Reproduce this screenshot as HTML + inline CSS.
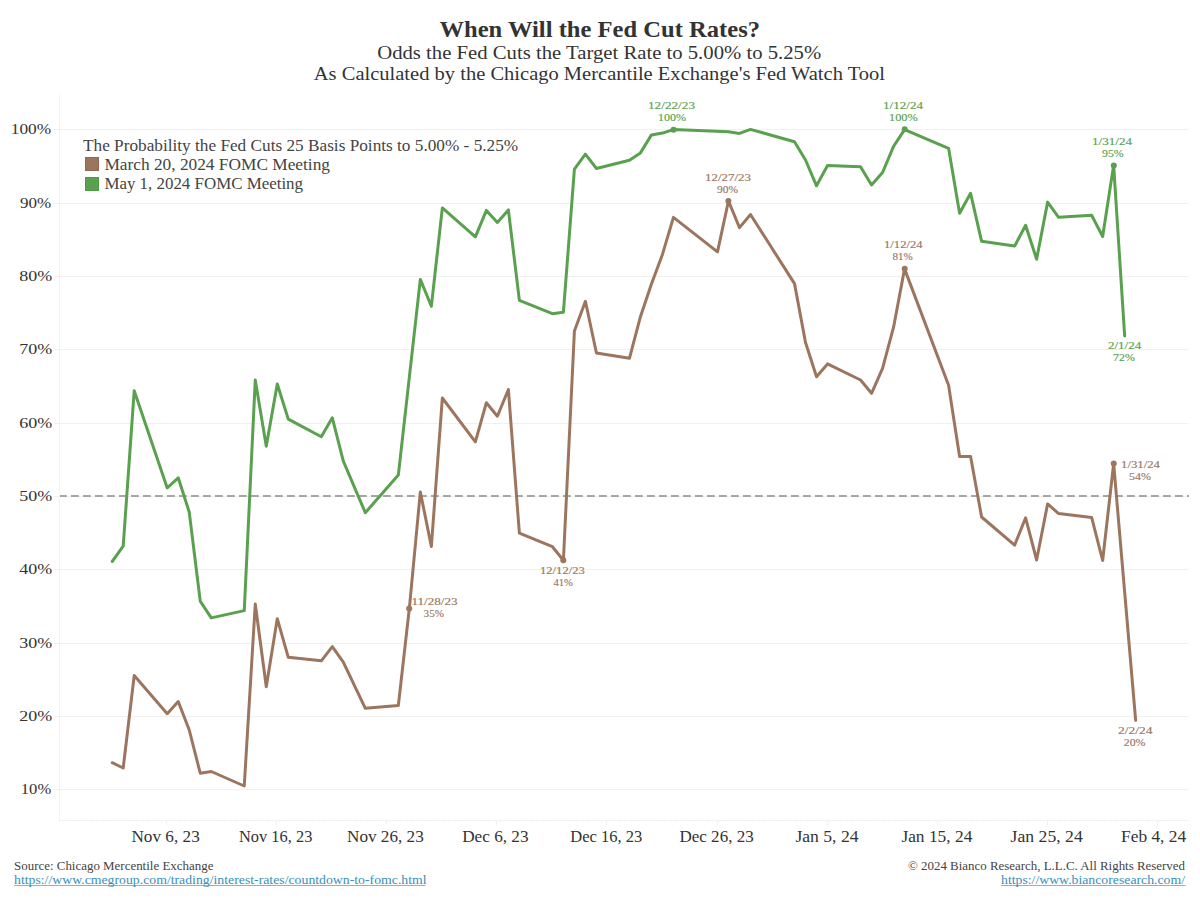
<!DOCTYPE html>
<html><head><meta charset="utf-8"><title>When Will the Fed Cut Rates?</title>
<style>
html,body{margin:0;padding:0;background:#fff;}
body{width:1200px;height:900px;overflow:hidden;}
svg{display:block;font-family:"Liberation Serif", serif;}
</style></head><body>
<svg width="1200" height="900" viewBox="0 0 1200 900">
<rect width="1200" height="900" fill="#fff"/>
<line x1="54" y1="129.5" x2="1188" y2="129.5" stroke="#f0f0f0" stroke-width="1"/>
<line x1="54" y1="203.5" x2="1188" y2="203.5" stroke="#f0f0f0" stroke-width="1"/>
<line x1="54" y1="276.5" x2="1188" y2="276.5" stroke="#f0f0f0" stroke-width="1"/>
<line x1="54" y1="349.5" x2="1188" y2="349.5" stroke="#f0f0f0" stroke-width="1"/>
<line x1="54" y1="423.5" x2="1188" y2="423.5" stroke="#f0f0f0" stroke-width="1"/>
<line x1="54" y1="496.5" x2="1188" y2="496.5" stroke="#f0f0f0" stroke-width="1"/>
<line x1="54" y1="569.5" x2="1188" y2="569.5" stroke="#f0f0f0" stroke-width="1"/>
<line x1="54" y1="643.5" x2="1188" y2="643.5" stroke="#f0f0f0" stroke-width="1"/>
<line x1="54" y1="716.5" x2="1188" y2="716.5" stroke="#f0f0f0" stroke-width="1"/>
<line x1="54" y1="789.5" x2="1188" y2="789.5" stroke="#f0f0f0" stroke-width="1"/>
<line x1="166.5" y1="821" x2="166.5" y2="825" stroke="#f0f0f0" stroke-width="1"/>
<line x1="276.5" y1="821" x2="276.5" y2="825" stroke="#f0f0f0" stroke-width="1"/>
<line x1="386.5" y1="821" x2="386.5" y2="825" stroke="#f0f0f0" stroke-width="1"/>
<line x1="496.5" y1="821" x2="496.5" y2="825" stroke="#f0f0f0" stroke-width="1"/>
<line x1="606.5" y1="821" x2="606.5" y2="825" stroke="#f0f0f0" stroke-width="1"/>
<line x1="717.5" y1="821" x2="717.5" y2="825" stroke="#f0f0f0" stroke-width="1"/>
<line x1="827.5" y1="821" x2="827.5" y2="825" stroke="#f0f0f0" stroke-width="1"/>
<line x1="937.5" y1="821" x2="937.5" y2="825" stroke="#f0f0f0" stroke-width="1"/>
<line x1="1047.5" y1="821" x2="1047.5" y2="825" stroke="#f0f0f0" stroke-width="1"/>
<line x1="1157.5" y1="821" x2="1157.5" y2="825" stroke="#f0f0f0" stroke-width="1"/>
<line x1="59.5" y1="821" x2="59.5" y2="822" stroke="#f2f2f2" stroke-width="1"/>
<line x1="70.5" y1="821" x2="70.5" y2="822" stroke="#f2f2f2" stroke-width="1"/>
<line x1="81.5" y1="821" x2="81.5" y2="822" stroke="#f2f2f2" stroke-width="1"/>
<line x1="92.5" y1="821" x2="92.5" y2="822" stroke="#f2f2f2" stroke-width="1"/>
<line x1="103.5" y1="821" x2="103.5" y2="822" stroke="#f2f2f2" stroke-width="1"/>
<line x1="114.5" y1="821" x2="114.5" y2="822" stroke="#f2f2f2" stroke-width="1"/>
<line x1="125.5" y1="821" x2="125.5" y2="822" stroke="#f2f2f2" stroke-width="1"/>
<line x1="136.5" y1="821" x2="136.5" y2="822" stroke="#f2f2f2" stroke-width="1"/>
<line x1="147.5" y1="821" x2="147.5" y2="822" stroke="#f2f2f2" stroke-width="1"/>
<line x1="158.5" y1="821" x2="158.5" y2="822" stroke="#f2f2f2" stroke-width="1"/>
<line x1="169.5" y1="821" x2="169.5" y2="822" stroke="#f2f2f2" stroke-width="1"/>
<line x1="180.5" y1="821" x2="180.5" y2="822" stroke="#f2f2f2" stroke-width="1"/>
<line x1="191.5" y1="821" x2="191.5" y2="822" stroke="#f2f2f2" stroke-width="1"/>
<line x1="202.5" y1="821" x2="202.5" y2="822" stroke="#f2f2f2" stroke-width="1"/>
<line x1="213.5" y1="821" x2="213.5" y2="822" stroke="#f2f2f2" stroke-width="1"/>
<line x1="224.5" y1="821" x2="224.5" y2="822" stroke="#f2f2f2" stroke-width="1"/>
<line x1="235.5" y1="821" x2="235.5" y2="822" stroke="#f2f2f2" stroke-width="1"/>
<line x1="246.5" y1="821" x2="246.5" y2="822" stroke="#f2f2f2" stroke-width="1"/>
<line x1="257.5" y1="821" x2="257.5" y2="822" stroke="#f2f2f2" stroke-width="1"/>
<line x1="268.5" y1="821" x2="268.5" y2="822" stroke="#f2f2f2" stroke-width="1"/>
<line x1="279.5" y1="821" x2="279.5" y2="822" stroke="#f2f2f2" stroke-width="1"/>
<line x1="290.5" y1="821" x2="290.5" y2="822" stroke="#f2f2f2" stroke-width="1"/>
<line x1="301.5" y1="821" x2="301.5" y2="822" stroke="#f2f2f2" stroke-width="1"/>
<line x1="312.5" y1="821" x2="312.5" y2="822" stroke="#f2f2f2" stroke-width="1"/>
<line x1="323.5" y1="821" x2="323.5" y2="822" stroke="#f2f2f2" stroke-width="1"/>
<line x1="334.5" y1="821" x2="334.5" y2="822" stroke="#f2f2f2" stroke-width="1"/>
<line x1="345.5" y1="821" x2="345.5" y2="822" stroke="#f2f2f2" stroke-width="1"/>
<line x1="356.5" y1="821" x2="356.5" y2="822" stroke="#f2f2f2" stroke-width="1"/>
<line x1="367.5" y1="821" x2="367.5" y2="822" stroke="#f2f2f2" stroke-width="1"/>
<line x1="378.5" y1="821" x2="378.5" y2="822" stroke="#f2f2f2" stroke-width="1"/>
<line x1="389.5" y1="821" x2="389.5" y2="822" stroke="#f2f2f2" stroke-width="1"/>
<line x1="400.5" y1="821" x2="400.5" y2="822" stroke="#f2f2f2" stroke-width="1"/>
<line x1="411.5" y1="821" x2="411.5" y2="822" stroke="#f2f2f2" stroke-width="1"/>
<line x1="422.5" y1="821" x2="422.5" y2="822" stroke="#f2f2f2" stroke-width="1"/>
<line x1="433.5" y1="821" x2="433.5" y2="822" stroke="#f2f2f2" stroke-width="1"/>
<line x1="444.5" y1="821" x2="444.5" y2="822" stroke="#f2f2f2" stroke-width="1"/>
<line x1="455.5" y1="821" x2="455.5" y2="822" stroke="#f2f2f2" stroke-width="1"/>
<line x1="466.5" y1="821" x2="466.5" y2="822" stroke="#f2f2f2" stroke-width="1"/>
<line x1="477.5" y1="821" x2="477.5" y2="822" stroke="#f2f2f2" stroke-width="1"/>
<line x1="488.5" y1="821" x2="488.5" y2="822" stroke="#f2f2f2" stroke-width="1"/>
<line x1="499.5" y1="821" x2="499.5" y2="822" stroke="#f2f2f2" stroke-width="1"/>
<line x1="510.5" y1="821" x2="510.5" y2="822" stroke="#f2f2f2" stroke-width="1"/>
<line x1="521.5" y1="821" x2="521.5" y2="822" stroke="#f2f2f2" stroke-width="1"/>
<line x1="532.5" y1="821" x2="532.5" y2="822" stroke="#f2f2f2" stroke-width="1"/>
<line x1="543.5" y1="821" x2="543.5" y2="822" stroke="#f2f2f2" stroke-width="1"/>
<line x1="554.5" y1="821" x2="554.5" y2="822" stroke="#f2f2f2" stroke-width="1"/>
<line x1="565.5" y1="821" x2="565.5" y2="822" stroke="#f2f2f2" stroke-width="1"/>
<line x1="576.5" y1="821" x2="576.5" y2="822" stroke="#f2f2f2" stroke-width="1"/>
<line x1="587.5" y1="821" x2="587.5" y2="822" stroke="#f2f2f2" stroke-width="1"/>
<line x1="598.5" y1="821" x2="598.5" y2="822" stroke="#f2f2f2" stroke-width="1"/>
<line x1="609.5" y1="821" x2="609.5" y2="822" stroke="#f2f2f2" stroke-width="1"/>
<line x1="620.5" y1="821" x2="620.5" y2="822" stroke="#f2f2f2" stroke-width="1"/>
<line x1="631.5" y1="821" x2="631.5" y2="822" stroke="#f2f2f2" stroke-width="1"/>
<line x1="642.5" y1="821" x2="642.5" y2="822" stroke="#f2f2f2" stroke-width="1"/>
<line x1="653.5" y1="821" x2="653.5" y2="822" stroke="#f2f2f2" stroke-width="1"/>
<line x1="664.5" y1="821" x2="664.5" y2="822" stroke="#f2f2f2" stroke-width="1"/>
<line x1="675.5" y1="821" x2="675.5" y2="822" stroke="#f2f2f2" stroke-width="1"/>
<line x1="686.5" y1="821" x2="686.5" y2="822" stroke="#f2f2f2" stroke-width="1"/>
<line x1="697.5" y1="821" x2="697.5" y2="822" stroke="#f2f2f2" stroke-width="1"/>
<line x1="708.5" y1="821" x2="708.5" y2="822" stroke="#f2f2f2" stroke-width="1"/>
<line x1="719.5" y1="821" x2="719.5" y2="822" stroke="#f2f2f2" stroke-width="1"/>
<line x1="730.5" y1="821" x2="730.5" y2="822" stroke="#f2f2f2" stroke-width="1"/>
<line x1="741.5" y1="821" x2="741.5" y2="822" stroke="#f2f2f2" stroke-width="1"/>
<line x1="752.5" y1="821" x2="752.5" y2="822" stroke="#f2f2f2" stroke-width="1"/>
<line x1="763.5" y1="821" x2="763.5" y2="822" stroke="#f2f2f2" stroke-width="1"/>
<line x1="774.5" y1="821" x2="774.5" y2="822" stroke="#f2f2f2" stroke-width="1"/>
<line x1="785.5" y1="821" x2="785.5" y2="822" stroke="#f2f2f2" stroke-width="1"/>
<line x1="796.5" y1="821" x2="796.5" y2="822" stroke="#f2f2f2" stroke-width="1"/>
<line x1="807.5" y1="821" x2="807.5" y2="822" stroke="#f2f2f2" stroke-width="1"/>
<line x1="818.5" y1="821" x2="818.5" y2="822" stroke="#f2f2f2" stroke-width="1"/>
<line x1="829.5" y1="821" x2="829.5" y2="822" stroke="#f2f2f2" stroke-width="1"/>
<line x1="840.5" y1="821" x2="840.5" y2="822" stroke="#f2f2f2" stroke-width="1"/>
<line x1="851.5" y1="821" x2="851.5" y2="822" stroke="#f2f2f2" stroke-width="1"/>
<line x1="862.5" y1="821" x2="862.5" y2="822" stroke="#f2f2f2" stroke-width="1"/>
<line x1="873.5" y1="821" x2="873.5" y2="822" stroke="#f2f2f2" stroke-width="1"/>
<line x1="884.5" y1="821" x2="884.5" y2="822" stroke="#f2f2f2" stroke-width="1"/>
<line x1="895.5" y1="821" x2="895.5" y2="822" stroke="#f2f2f2" stroke-width="1"/>
<line x1="906.5" y1="821" x2="906.5" y2="822" stroke="#f2f2f2" stroke-width="1"/>
<line x1="917.5" y1="821" x2="917.5" y2="822" stroke="#f2f2f2" stroke-width="1"/>
<line x1="928.5" y1="821" x2="928.5" y2="822" stroke="#f2f2f2" stroke-width="1"/>
<line x1="939.5" y1="821" x2="939.5" y2="822" stroke="#f2f2f2" stroke-width="1"/>
<line x1="950.5" y1="821" x2="950.5" y2="822" stroke="#f2f2f2" stroke-width="1"/>
<line x1="961.5" y1="821" x2="961.5" y2="822" stroke="#f2f2f2" stroke-width="1"/>
<line x1="972.5" y1="821" x2="972.5" y2="822" stroke="#f2f2f2" stroke-width="1"/>
<line x1="983.5" y1="821" x2="983.5" y2="822" stroke="#f2f2f2" stroke-width="1"/>
<line x1="994.5" y1="821" x2="994.5" y2="822" stroke="#f2f2f2" stroke-width="1"/>
<line x1="1005.5" y1="821" x2="1005.5" y2="822" stroke="#f2f2f2" stroke-width="1"/>
<line x1="1016.5" y1="821" x2="1016.5" y2="822" stroke="#f2f2f2" stroke-width="1"/>
<line x1="1027.5" y1="821" x2="1027.5" y2="822" stroke="#f2f2f2" stroke-width="1"/>
<line x1="1038.5" y1="821" x2="1038.5" y2="822" stroke="#f2f2f2" stroke-width="1"/>
<line x1="1049.5" y1="821" x2="1049.5" y2="822" stroke="#f2f2f2" stroke-width="1"/>
<line x1="1060.5" y1="821" x2="1060.5" y2="822" stroke="#f2f2f2" stroke-width="1"/>
<line x1="1071.5" y1="821" x2="1071.5" y2="822" stroke="#f2f2f2" stroke-width="1"/>
<line x1="1082.5" y1="821" x2="1082.5" y2="822" stroke="#f2f2f2" stroke-width="1"/>
<line x1="1093.5" y1="821" x2="1093.5" y2="822" stroke="#f2f2f2" stroke-width="1"/>
<line x1="1104.5" y1="821" x2="1104.5" y2="822" stroke="#f2f2f2" stroke-width="1"/>
<line x1="1115.5" y1="821" x2="1115.5" y2="822" stroke="#f2f2f2" stroke-width="1"/>
<line x1="1126.5" y1="821" x2="1126.5" y2="822" stroke="#f2f2f2" stroke-width="1"/>
<line x1="1137.5" y1="821" x2="1137.5" y2="822" stroke="#f2f2f2" stroke-width="1"/>
<line x1="1148.5" y1="821" x2="1148.5" y2="822" stroke="#f2f2f2" stroke-width="1"/>
<line x1="1159.5" y1="821" x2="1159.5" y2="822" stroke="#f2f2f2" stroke-width="1"/>
<line x1="1170.5" y1="821" x2="1170.5" y2="822" stroke="#f2f2f2" stroke-width="1"/>
<line x1="1181.5" y1="821" x2="1181.5" y2="822" stroke="#f2f2f2" stroke-width="1"/>
<line x1="59.5" y1="95" x2="59.5" y2="821" stroke="#f2f2f2" stroke-width="1"/>
<line x1="59" y1="820.5" x2="1189" y2="820.5" stroke="#f2f2f2" stroke-width="1"/>
<line x1="60" y1="496" x2="1189" y2="496" stroke="#a6a6a6" stroke-width="2" stroke-dasharray="7.8,4.2" stroke-dashoffset="1"/>
<polyline points="112.2,762.7 123.2,768.0 134.21,675.6 167.23,713.7 178.23,701.5 189.24,730.0 200.24,773.2 211.25,771.5 244.26,786.0 255.26,604.0 266.27,686.7 277.28,618.7 288.28,657.3 321.3,660.8 332.3,646.7 343.31,662.1 365.31,708.3 398.33,705.6 409.34,608.3 420.34,492.0 431.35,546.5 442.35,398.0 475.37,441.8 486.37,402.7 497.38,416.2 508.38,389.5 519.38,533.2 552.4,546.7 563.41,560.2 574.41,331.0 585.42,301.3 596.42,353.0 629.44,358.3 640.44,316.7 651.45,283.9 662.45,254.4 673.46,217.4 717.48,251.9 728.48,201.0 739.49,227.6 750.49,214.5 794.51,283.6 805.52,342.5 816.52,376.7 827.53,363.9 860.54,380.0 871.55,393.3 882.55,368.3 893.56,327.2 904.56,268.9 948.58,385.2 959.59,456.5 970.59,456.5 981.6,517.0 1014.61,545.2 1025.62,517.8 1036.62,560.0 1047.62,503.9 1058.63,513.6 1091.64,517.4 1102.65,560.5 1113.65,463.6 1135.66,720.3" fill="none" stroke="#9c755f" stroke-width="3" stroke-linejoin="round" stroke-linecap="round"/>
<polyline points="112.2,561.5 123.2,546.2 134.21,390.8 167.23,487.9 178.23,477.8 189.24,512.1 200.24,601.1 211.25,617.9 244.26,610.6 255.26,380.0 266.27,446.2 277.28,384.0 288.28,419.1 321.3,436.7 332.3,417.8 343.31,461.1 365.31,512.7 398.33,475.1 420.34,279.4 431.35,306.3 442.35,207.9 475.37,236.8 486.37,210.4 497.38,222.5 508.38,209.9 519.38,300.4 552.4,313.7 563.41,312.2 574.41,169.2 585.42,154.2 596.42,168.5 629.44,160.2 640.44,152.9 651.45,134.9 662.45,133.1 673.46,129.6 728.48,131.8 739.49,133.4 750.49,129.4 794.51,141.7 805.52,160.0 816.52,185.8 827.53,165.5 860.54,166.7 871.55,185.0 882.55,172.5 893.56,146.3 904.56,129.7 948.58,148.3 959.59,213.3 970.59,193.3 981.6,241.3 1014.61,246.1 1025.62,225.3 1036.62,259.2 1047.62,202.1 1058.63,217.3 1091.64,215.2 1102.65,236.5 1113.65,165.3 1124.66,336.0" fill="none" stroke="#59a14f" stroke-width="3" stroke-linejoin="round" stroke-linecap="round"/>
<circle cx="673.5" cy="129.8" r="3" fill="#59a14f"/>
<circle cx="904.7" cy="129.2" r="3" fill="#59a14f"/>
<circle cx="1113.8" cy="165.5" r="3" fill="#59a14f"/>
<circle cx="409.2" cy="608.4" r="3" fill="#9c755f"/>
<circle cx="563.3" cy="560.2" r="3" fill="#9c755f"/>
<circle cx="728.4" cy="201.1" r="3" fill="#9c755f"/>
<circle cx="904.7" cy="268.8" r="3" fill="#9c755f"/>
<circle cx="1113.75" cy="463.5" r="3" fill="#9c755f"/>
<line x1="14" y1="885.5" x2="425.5" y2="885.5" stroke="#86b6cf" stroke-width="1"/>
<line x1="1001" y1="885.5" x2="1185.5" y2="885.5" stroke="#86b6cf" stroke-width="1"/>
<rect x="85.5" y="157.5" width="13" height="13" fill="#9c755f" stroke="#916953" stroke-width="1"/>
<rect x="85.5" y="177.5" width="13" height="13" fill="#59a14f" stroke="#4f9a45" stroke-width="1"/>
<text x="439.40" y="36.9" font-size="22.5" fill="#333" font-weight="bold" textLength="320.60" lengthAdjust="spacingAndGlyphs">When Will the Fed Cut Rates?</text>
<text x="377.20" y="58.8" font-size="18.5" fill="#333" font-weight="normal" textLength="444.00" lengthAdjust="spacingAndGlyphs">Odds the Fed Cuts the Target Rate to 5.00% to 5.25%</text>
<text x="313.80" y="80.0" font-size="18.5" fill="#333" font-weight="normal" textLength="571.20" lengthAdjust="spacingAndGlyphs">As Calculated by the Chicago Mercantile Exchange&apos;s Fed Watch Tool</text>
<text x="83.00" y="151.0" font-size="16" fill="#444" font-weight="normal" textLength="435.20" lengthAdjust="spacingAndGlyphs">The Probability the Fed Cuts 25 Basis Points to 5.00% - 5.25%</text>
<text x="104.40" y="169.7" font-size="16" fill="#444" font-weight="normal" textLength="225.60" lengthAdjust="spacingAndGlyphs">March 20, 2024 FOMC Meeting</text>
<text x="104.40" y="189.0" font-size="16" fill="#444" font-weight="normal" textLength="198.60" lengthAdjust="spacingAndGlyphs">May 1, 2024 FOMC Meeting</text>
<text x="10.80" y="134" font-size="15.5" fill="#333" font-weight="normal" textLength="40.40" lengthAdjust="spacingAndGlyphs">100%</text>
<text x="20.00" y="208" font-size="15.5" fill="#333" font-weight="normal" textLength="31.20" lengthAdjust="spacingAndGlyphs">90%</text>
<text x="19.20" y="281" font-size="15.5" fill="#333" font-weight="normal" textLength="33.00" lengthAdjust="spacingAndGlyphs">80%</text>
<text x="19.20" y="354" font-size="15.5" fill="#333" font-weight="normal" textLength="33.00" lengthAdjust="spacingAndGlyphs">70%</text>
<text x="19.20" y="428" font-size="15.5" fill="#333" font-weight="normal" textLength="33.00" lengthAdjust="spacingAndGlyphs">60%</text>
<text x="19.20" y="501" font-size="15.5" fill="#333" font-weight="normal" textLength="33.00" lengthAdjust="spacingAndGlyphs">50%</text>
<text x="19.20" y="574" font-size="15.5" fill="#333" font-weight="normal" textLength="33.00" lengthAdjust="spacingAndGlyphs">40%</text>
<text x="19.20" y="648" font-size="15.5" fill="#333" font-weight="normal" textLength="33.00" lengthAdjust="spacingAndGlyphs">30%</text>
<text x="19.20" y="721" font-size="15.5" fill="#333" font-weight="normal" textLength="33.00" lengthAdjust="spacingAndGlyphs">20%</text>
<text x="20.80" y="794" font-size="15.5" fill="#333" font-weight="normal" textLength="30.40" lengthAdjust="spacingAndGlyphs">10%</text>
<text x="131.40" y="841.9" font-size="16.6" fill="#333" font-weight="normal" textLength="68.40" lengthAdjust="spacingAndGlyphs">Nov 6, 23</text>
<text x="239.00" y="841.9" font-size="16.6" fill="#333" font-weight="normal" textLength="73.40" lengthAdjust="spacingAndGlyphs">Nov 16, 23</text>
<text x="347.00" y="841.9" font-size="16.6" fill="#333" font-weight="normal" textLength="76.80" lengthAdjust="spacingAndGlyphs">Nov 26, 23</text>
<text x="462.20" y="841.9" font-size="16.6" fill="#333" font-weight="normal" textLength="66.40" lengthAdjust="spacingAndGlyphs">Dec 6, 23</text>
<text x="570.20" y="841.9" font-size="16.6" fill="#333" font-weight="normal" textLength="72.20" lengthAdjust="spacingAndGlyphs">Dec 16, 23</text>
<text x="679.40" y="841.9" font-size="16.6" fill="#333" font-weight="normal" textLength="74.40" lengthAdjust="spacingAndGlyphs">Dec 26, 23</text>
<text x="795.40" y="841.9" font-size="16.6" fill="#333" font-weight="normal" textLength="63.20" lengthAdjust="spacingAndGlyphs">Jan 5, 24</text>
<text x="901.40" y="841.9" font-size="16.6" fill="#333" font-weight="normal" textLength="71.00" lengthAdjust="spacingAndGlyphs">Jan 15, 24</text>
<text x="1010.60" y="841.9" font-size="16.6" fill="#333" font-weight="normal" textLength="72.20" lengthAdjust="spacingAndGlyphs">Jan 25, 24</text>
<text x="1121.00" y="841.9" font-size="16.6" fill="#333" font-weight="normal" textLength="65.20" lengthAdjust="spacingAndGlyphs">Feb 4, 24</text>
<text x="648.00" y="108.9" font-size="10.5" fill="#59a14f" font-weight="normal" textLength="47.00" lengthAdjust="spacingAndGlyphs" stroke="#59a14f" stroke-width="0.15">12/22/23</text>
<text x="658.00" y="120.75" font-size="10.5" fill="#59a14f" font-weight="normal" textLength="28.00" lengthAdjust="spacingAndGlyphs" stroke="#59a14f" stroke-width="0.15">100%</text>
<text x="705.00" y="180.9" font-size="10.5" fill="#9c755f" font-weight="normal" textLength="46.00" lengthAdjust="spacingAndGlyphs" stroke="#9c755f" stroke-width="0.15">12/27/23</text>
<text x="717.00" y="192.75" font-size="10.5" fill="#9c755f" font-weight="normal" textLength="21.00" lengthAdjust="spacingAndGlyphs" stroke="#9c755f" stroke-width="0.15">90%</text>
<text x="883.00" y="108.8" font-size="10.5" fill="#59a14f" font-weight="normal" textLength="40.00" lengthAdjust="spacingAndGlyphs" stroke="#59a14f" stroke-width="0.15">1/12/24</text>
<text x="889.00" y="120.8" font-size="10.5" fill="#59a14f" font-weight="normal" textLength="28.60" lengthAdjust="spacingAndGlyphs" stroke="#59a14f" stroke-width="0.15">100%</text>
<text x="884.00" y="247.9" font-size="10.5" fill="#9c755f" font-weight="normal" textLength="38.60" lengthAdjust="spacingAndGlyphs" stroke="#9c755f" stroke-width="0.15">1/12/24</text>
<text x="892.40" y="259.7" font-size="10.5" fill="#9c755f" font-weight="normal" textLength="20.20" lengthAdjust="spacingAndGlyphs" stroke="#9c755f" stroke-width="0.15">81%</text>
<text x="1092.00" y="144.7" font-size="10.5" fill="#59a14f" font-weight="normal" textLength="40.00" lengthAdjust="spacingAndGlyphs" stroke="#59a14f" stroke-width="0.15">1/31/24</text>
<text x="1102.00" y="156.7" font-size="10.5" fill="#59a14f" font-weight="normal" textLength="21.60" lengthAdjust="spacingAndGlyphs" stroke="#59a14f" stroke-width="0.15">95%</text>
<text x="1108.00" y="348.8" font-size="10.5" fill="#59a14f" font-weight="normal" textLength="33.20" lengthAdjust="spacingAndGlyphs" stroke="#59a14f" stroke-width="0.15">2/1/24</text>
<text x="1113.00" y="360.6" font-size="10.5" fill="#59a14f" font-weight="normal" textLength="21.80" lengthAdjust="spacingAndGlyphs" stroke="#59a14f" stroke-width="0.15">72%</text>
<text x="1118.00" y="733.8" font-size="10.5" fill="#9c755f" font-weight="normal" textLength="34.60" lengthAdjust="spacingAndGlyphs" stroke="#9c755f" stroke-width="0.15">2/2/24</text>
<text x="1123.80" y="745.6" font-size="10.5" fill="#9c755f" font-weight="normal" textLength="21.60" lengthAdjust="spacingAndGlyphs" stroke="#9c755f" stroke-width="0.15">20%</text>
<text x="540.00" y="573.8" font-size="10.5" fill="#9c755f" font-weight="normal" textLength="44.80" lengthAdjust="spacingAndGlyphs" stroke="#9c755f" stroke-width="0.15">12/12/23</text>
<text x="553.40" y="585.6" font-size="10.5" fill="#9c755f" font-weight="normal" textLength="19.40" lengthAdjust="spacingAndGlyphs" stroke="#9c755f" stroke-width="0.15">41%</text>
<text x="411.40" y="604.9" font-size="10.5" fill="#9c755f" font-weight="normal" textLength="46.20" lengthAdjust="spacingAndGlyphs" stroke="#9c755f" stroke-width="0.15">11/28/23</text>
<text x="423.60" y="616.8" font-size="10.5" fill="#9c755f" font-weight="normal" textLength="20.40" lengthAdjust="spacingAndGlyphs" stroke="#9c755f" stroke-width="0.15">35%</text>
<text x="1121.00" y="467.75" font-size="10.5" fill="#9c755f" font-weight="normal" textLength="39.00" lengthAdjust="spacingAndGlyphs" stroke="#9c755f" stroke-width="0.15">1/31/24</text>
<text x="1129.00" y="479.75" font-size="10.5" fill="#9c755f" font-weight="normal" textLength="22.00" lengthAdjust="spacingAndGlyphs" stroke="#9c755f" stroke-width="0.15">54%</text>
<text x="14.00" y="869.6" font-size="12.8" fill="#444" font-weight="normal" textLength="199.40" lengthAdjust="spacingAndGlyphs">Source: Chicago Mercentile Exchange</text>
<text x="14.00" y="884.0" font-size="12.8" fill="#3a8fb7" font-weight="normal" textLength="412.60" lengthAdjust="spacingAndGlyphs">https://www.cmegroup.com/trading/interest-rates/countdown-to-fomc.html</text>
<text x="908.00" y="869.8" font-size="12.8" fill="#444" font-weight="normal" textLength="277.00" lengthAdjust="spacingAndGlyphs">© 2024 Bianco Research, L.L.C. All Rights Reserved</text>
<text x="1001.00" y="884.0" font-size="12.8" fill="#3a8fb7" font-weight="normal" textLength="184.00" lengthAdjust="spacingAndGlyphs">https://www.biancoresearch.com/</text>
</svg>
</body></html>
